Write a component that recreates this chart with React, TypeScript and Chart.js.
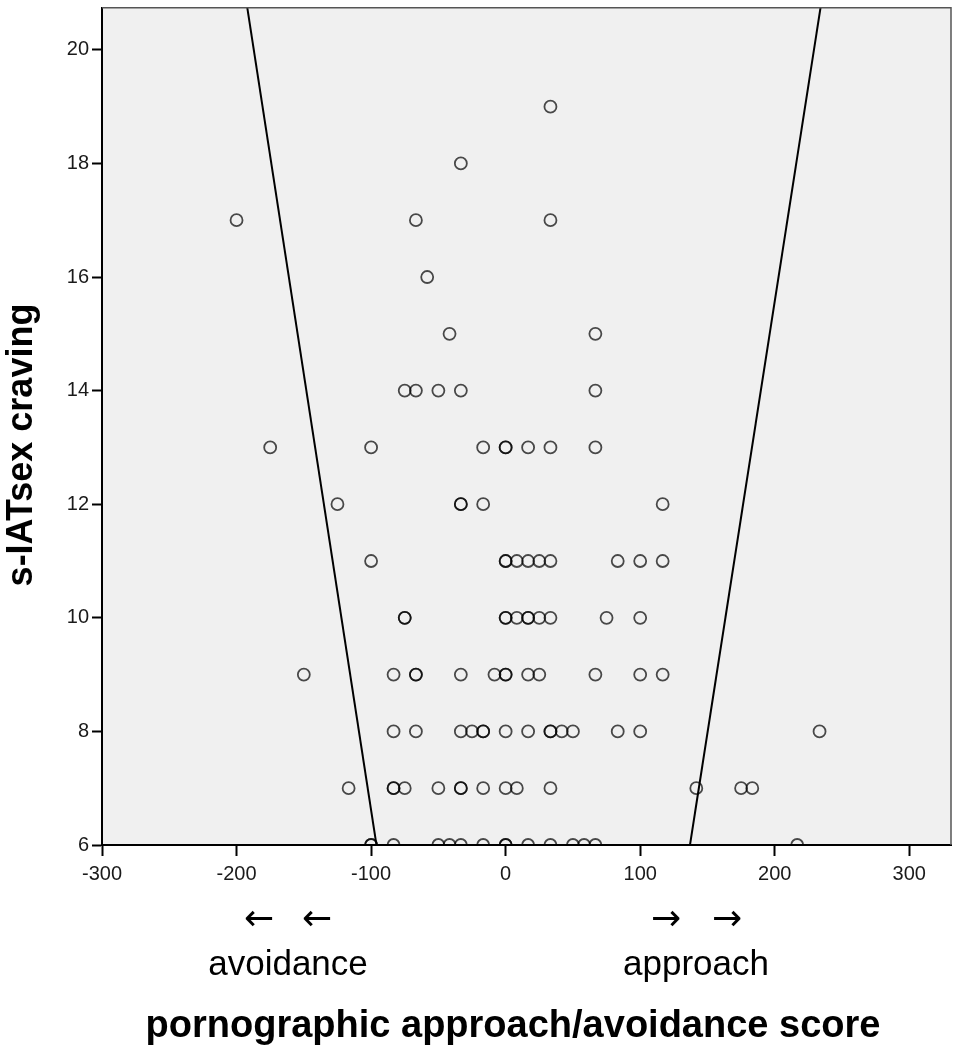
import { useEffect, useRef } from 'react';
import { Chart, registerables } from 'chart.js';
import type { Plugin } from 'chart.js';

Chart.register(...registerables);

// axis ranges and tick labels
const X_MIN = -300;
const X_MAX = 331;
const Y_MIN = 6;
const Y_MAX = 20.74;
const X_TICKS = [-300, -200, -100, 0, 100, 200, 300];
const Y_TICKS = [6, 8, 10, 12, 14, 16, 18, 20];

// approach/avoidance scores, grouped by s-IATsex craving level
const scores19 = [33.3];
const scores18 = [-33.3];
const scores17 = [-200, -66.7, 33.3];
const scores16 = [-58.3];
const scores15 = [-41.7, 66.7];
const scores14 = [-75, -66.7, -50, -33.3, 66.7];
const scores13 = [-175, -100, -16.7, 0, 0, 16.7, 33.3, 66.7];
const scores12 = [-125, -33.3, -33.3, -16.7, 116.7];
const scores11 = [-100, 0, 0, 8.3, 16.7, 25, 33.3, 83.3, 100, 116.7];
const scores10 = [-75, -75, 0, 0, 8.3, 16.7, 16.7, 25, 33.3, 75, 100];
const scores9 = [-150, -83.3, -66.7, -66.7, -33.3, -8.3, 0, 0, 16.7, 25, 66.7, 100, 116.7];
const scores8 = [-83.3, -66.7, -33.3, -25, -16.7, -16.7, 0, 16.7, 33.3, 33.3, 41.7, 50, 83.3, 100, 233.3];
const scores7 = [-116.7, -83.3, -83.3, -75, -50, -33.3, -33.3, -16.7, 0, 8.3, 33.3, 141.7, 175, 183.3];
const scores6 = [-100, -100, -83.3, -50, -41.7, -33.3, -16.7, 0, 0, 16.7, 33.3, 50, 58.3, 66.7, 216.7];

const CRAVING_LEVELS = [19, 18, 17, 16, 15, 14, 13, 12, 11, 10, 9, 8, 7, 6];
const SCORES_BY_LEVEL = [
  scores19, scores18, scores17, scores16, scores15, scores14, scores13,
  scores12, scores11, scores10, scores9, scores8, scores7, scores6,
];

// the two boundary lines (score at the bottom and at the top of the plot)
const BAND_Y = [6, 20.74];
const LEFT_BAND_X = [-96, -192];
const RIGHT_BAND_X = [137, 234];

const FONT = '"Liberation Sans", Arial, Helvetica, sans-serif';

const points = CRAVING_LEVELS.flatMap((level, i) =>
  SCORES_BY_LEVEL[i].map((s) => ({ x: s, y: level })),
);
const leftBand = BAND_Y.map((y, i) => ({ x: LEFT_BAND_X[i], y }));
const rightBand = BAND_Y.map((y, i) => ({ x: RIGHT_BAND_X[i], y }));

const frame: Plugin<'scatter'> = {
  id: 'frame',
  beforeDraw(chart) {
    const { ctx, chartArea: a } = chart;
    ctx.save();
    ctx.fillStyle = '#F0F0F0';
    ctx.fillRect(a.left, a.top, a.right - a.left, a.bottom - a.top);
    ctx.restore();
  },
  afterDraw(chart) {
    const { ctx, chartArea: a } = chart;
    ctx.save();
    // top and right edge of the plot box
    ctx.strokeStyle = '#555';
    ctx.lineWidth = 1.5;
    ctx.beginPath();
    ctx.moveTo(a.left, a.top);
    ctx.lineTo(a.right, a.top);
    ctx.lineTo(a.right, a.bottom);
    ctx.stroke();

    ctx.fillStyle = '#000';
    ctx.textAlign = 'center';

    // direction arrows
    ctx.textBaseline = 'middle';
    ctx.font = '36px "DejaVu Sans", sans-serif';
    ctx.fillText('←', 259, 921);
    ctx.fillText('←', 317, 921);
    ctx.fillText('→', 666, 921);
    ctx.fillText('→', 727, 921);

    ctx.textBaseline = 'alphabetic';
    ctx.font = `35px ${FONT}`;
    ctx.fillText('avoidance', 288, 975);
    ctx.fillText('approach', 696, 975);

    ctx.font = `bold 38px ${FONT}`;
    ctx.fillText('pornographic approach/avoidance score', 513, 1037);

    ctx.translate(32, 445);
    ctx.rotate(-Math.PI / 2);
    ctx.font = `bold 36px ${FONT}`;
    ctx.fillText('s-IATsex craving', 0, 0);
    ctx.restore();
  },
};

function ScatterChart() {
  const canvasRef = useRef<HTMLCanvasElement>(null);
  const chartRef = useRef<Chart<'scatter'> | null>(null);

  useEffect(() => {
    if (!canvasRef.current) return;
    chartRef.current?.destroy();

    chartRef.current = new Chart(canvasRef.current, {
      type: 'scatter',
      data: {
        datasets: [
          {
            label: 'participants',
            data: points,
            pointStyle: 'circle',
            pointRadius: 6,
            pointBorderWidth: 1.8,
            pointBorderColor: 'rgba(0,0,0,0.7)',
            pointBackgroundColor: 'rgba(0,0,0,0)',
            clip: 0,
          },
          {
            label: 'left',
            data: leftBand,
            showLine: true,
            borderColor: '#000',
            borderWidth: 2,
            pointRadius: 0,
            clip: 0,
          },
          {
            label: 'right',
            data: rightBand,
            showLine: true,
            borderColor: '#000',
            borderWidth: 2,
            pointRadius: 0,
            clip: 0,
          },
        ],
      },
      options: {
        animation: false,
        responsive: true,
        maintainAspectRatio: false,
        layout: { padding: { top: 7, right: 9, left: 0, bottom: 0 } },
        plugins: {
          legend: { display: false },
          tooltip: { enabled: false },
        },
        scales: {
          x: {
            type: 'linear',
            min: X_MIN,
            max: X_MAX,
            afterBuildTicks: (scale) => {
              scale.ticks = X_TICKS.map((v) => ({ value: v }));
            },
            afterFit: (scale) => {
              scale.height = 207;
              scale.paddingLeft = 0;
              scale.paddingRight = 0;
            },
            ticks: {
              color: '#1a1a1a',
              font: { family: FONT, size: 20 },
              padding: 6,
              maxRotation: 0,
              autoSkip: false,
            },
            grid: {
              drawOnChartArea: false,
              drawTicks: true,
              tickLength: 11,
              tickWidth: 2,
              tickColor: '#000',
            },
            border: { color: '#000', width: 2 },
          },
          y: {
            type: 'linear',
            min: Y_MIN,
            max: Y_MAX,
            afterBuildTicks: (scale) => {
              scale.ticks = Y_TICKS.map((v) => ({ value: v }));
            },
            afterFit: (scale) => {
              scale.width = 102;
              scale.paddingTop = 0;
              scale.paddingBottom = 0;
            },
            ticks: {
              color: '#1a1a1a',
              font: { family: FONT, size: 20 },
              padding: 3,
              autoSkip: false,
            },
            grid: {
              drawOnChartArea: false,
              drawTicks: true,
              tickLength: 10,
              tickWidth: 2,
              tickColor: '#000',
            },
            border: { color: '#000', width: 2 },
          },
        },
      },
      plugins: [frame],
    });

    return () => {
      chartRef.current?.destroy();
      chartRef.current = null;
    };
  }, []);

  return <canvas ref={canvasRef} />;
}

export default function App() {
  return (
    <div
      style={{
        position: 'absolute',
        left: 0,
        top: 0,
        width: 960,
        height: 1052,
        background: '#fff',
      }}
    >
      <ScatterChart />
    </div>
  );
}
